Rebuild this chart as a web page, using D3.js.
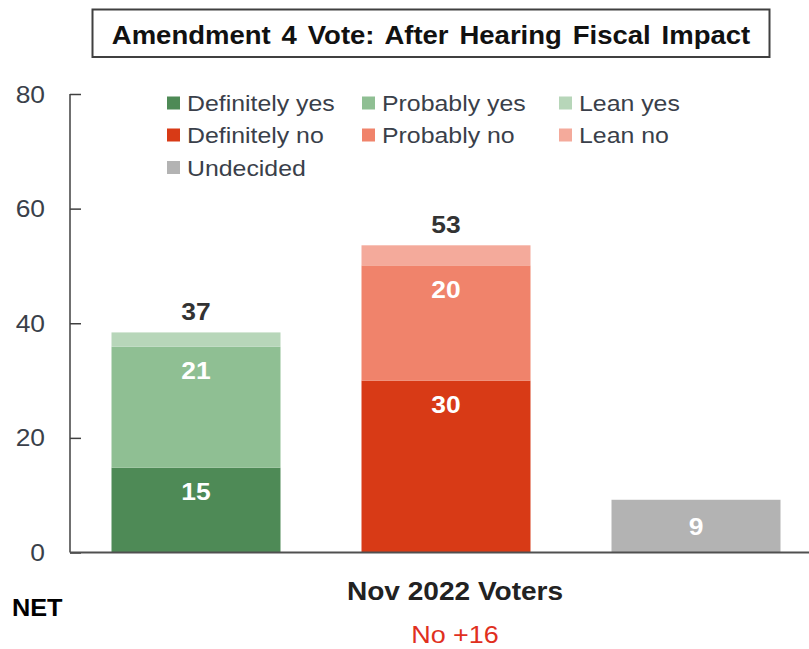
<!DOCTYPE html>
<html>
<head>
<meta charset="utf-8">
<script src="https://cdn.jsdelivr.net/npm/d3@7"></script>
<style>
  html, body { margin: 0; padding: 0; background: #fff; }
  svg { display: block; font-family: "Liberation Sans", Arial, sans-serif; }
</style>
</head>
<body>
<svg id="chart" width="809" height="649"></svg>
<script>
// ---- data ----
const title = "Amendment 4 Vote: After Hearing Fiscal Impact";
const groups = ["Yes", "No", "Undecided"];
const seriesNames = ["Definitely yes", "Probably yes", "Lean yes", "Definitely no", "Probably no", "Lean no", "Undecided"];
const seriesColors = ["#4e8a56", "#8fbf93", "#b7d6b9", "#d83a16", "#f0836b", "#f4aa9b", "#b3b3b3"];
// values per series (per group)
const yesValues = [14.8, 21.1, 2.5];      // Definitely, Probably, Lean
const noValues = [30.0, 20.1, 3.5];       // Definitely, Probably, Lean
const undecidedValues = [9.2];
const yesLabels = ["15", "21", ""];
const noLabels = ["30", "20", ""];
const undecidedLabels = ["9"];
const totalLabels = ["37", "53", ""];
const yTicks = [0, 20, 40, 60, 80];
const xLabel = "Nov 2022 Voters";
const netLabel = "NET";
const netValue = "No +16";

// ---- setup ----
const svg = d3.select("#chart");
const SX = 1.1; // horizontal text stretch of the original rendering

function place(sel, x, y) {
  return sel.attr("x", 0).attr("y", 0)
    .attr("transform", `translate(${x},${y}) scale(${SX},1)`);
}

const y = d3.scaleLinear().domain([0, 80]).range([552.5, 94]);
const x = d3.scaleBand().domain(groups).range([71, 821]).paddingInner(0.324).paddingOuter(0.162);

// build stacks
const stacks = [
  { group: "Yes", values: yesValues, labels: yesLabels, colors: seriesColors.slice(0, 3) },
  { group: "No", values: noValues, labels: noLabels, colors: seriesColors.slice(3, 6) },
  { group: "Undecided", values: undecidedValues, labels: undecidedLabels, colors: seriesColors.slice(6, 7) }
];
const segs = [];
stacks.forEach((s, gi) => {
  let acc = 0;
  s.values.forEach((v, i) => {
    segs.push({ group: s.group, y0: acc, y1: acc + v, color: s.colors[i], label: s.labels[i] });
    acc += v;
  });
  s.total = acc;
  s.totalLabel = totalLabels[gi];
});

// ---- title box ----
svg.append("rect")
  .attr("x", 92.5).attr("y", 9.5).attr("width", 677).attr("height", 47.5)
  .attr("fill", "#fff").attr("stroke", "#404040").attr("stroke-width", 2);
place(svg.append("text"), 431, 44)
  .attr("text-anchor", "middle").attr("font-size", 25).attr("font-weight", "bold")
  .attr("fill", "#111").attr("word-spacing", 3).text(title);

// ---- bars ----
svg.append("g").selectAll("rect").data(segs).join("rect")
  .attr("x", d => x(d.group))
  .attr("width", x.bandwidth())
  .attr("y", d => y(d.y1))
  .attr("height", d => y(d.y0) - y(d.y1))
  .attr("fill", d => d.color);

// segment labels
const segLab = svg.append("g").selectAll("text").data(segs.filter(d => d.label)).join("text")
  .attr("text-anchor", "middle").attr("font-size", 24).attr("font-weight", "bold").attr("fill", "#fff")
  .text(d => d.label);
segLab.each(function (d) {
  const top = y(d.y1), bot = y(d.y0);
  const cy = (bot - top) < 60 ? (top + bot) / 2 : top + 24;
  place(d3.select(this), x(d.group) + x.bandwidth() / 2, cy + 8.5);
});

// total labels
svg.append("g").selectAll("text").data(stacks.filter(s => s.totalLabel)).join("text")
  .attr("text-anchor", "middle").attr("font-size", 24).attr("font-weight", "bold").attr("fill", "#333")
  .text(s => s.totalLabel)
  .each(function (s) { place(d3.select(this), x(s.group) + x.bandwidth() / 2, y(s.total) - 12.5); });

// ---- axes ----
const yAxis = svg.append("g").attr("transform", "translate(70,0)")
  .call(d3.axisRight(y).tickValues(yTicks).tickSize(11).tickFormat(""));
yAxis.select(".domain").attr("stroke", "#404040").attr("stroke-width", 1.5)
  .attr("d", `M0,${y(80)}V${y(0)}`);
yAxis.selectAll(".tick line").attr("stroke", "#404040").attr("stroke-width", 1.5);

svg.append("g").selectAll("text").data(yTicks).join("text")
  .attr("text-anchor", "end").attr("font-size", 24).attr("fill", "#3a3f4a")
  .text(d => d)
  .each(function (d) { place(d3.select(this), 45, y(d) + 8.5); });

// baseline
svg.append("line")
  .attr("x1", 70).attr("x2", 809).attr("y1", y(0)).attr("y2", y(0))
  .attr("stroke", "#505050").attr("stroke-width", 2);

// ---- legend ----
const legCols = [167, 362, 559];
const legRows = [103, 135, 167.5];
const legendItems = seriesNames.map((n, i) => ({
  name: n, color: seriesColors[i],
  col: i === 6 ? 0 : i % 3,
  row: i === 6 ? 2 : Math.floor(i / 3)
}));
const leg = svg.append("g").selectAll("g").data(legendItems).join("g");
leg.append("rect")
  .attr("x", d => legCols[d.col]).attr("y", d => legRows[d.row] - 6.5)
  .attr("width", 13).attr("height", 13).attr("fill", d => d.color);
leg.append("text")
  .attr("font-size", 22.6).attr("fill", "#3a3f4a")
  .text(d => d.name)
  .each(function (d) { place(d3.select(this), legCols[d.col] + 20, legRows[d.row] + 8); });

// ---- bottom labels ----
place(svg.append("text"), 455, 600)
  .attr("text-anchor", "middle").attr("font-size", 25.5).attr("font-weight", "bold").attr("fill", "#222")
  .text(xLabel);
place(svg.append("text"), 12, 616)
  .attr("font-size", 23).attr("font-weight", "bold").attr("fill", "#000")
  .text(netLabel);
place(svg.append("text"), 455, 642.5)
  .attr("text-anchor", "middle").attr("font-size", 24.5).attr("fill", "#e0301e")
  .text(netValue);
</script>
</body>
</html>
